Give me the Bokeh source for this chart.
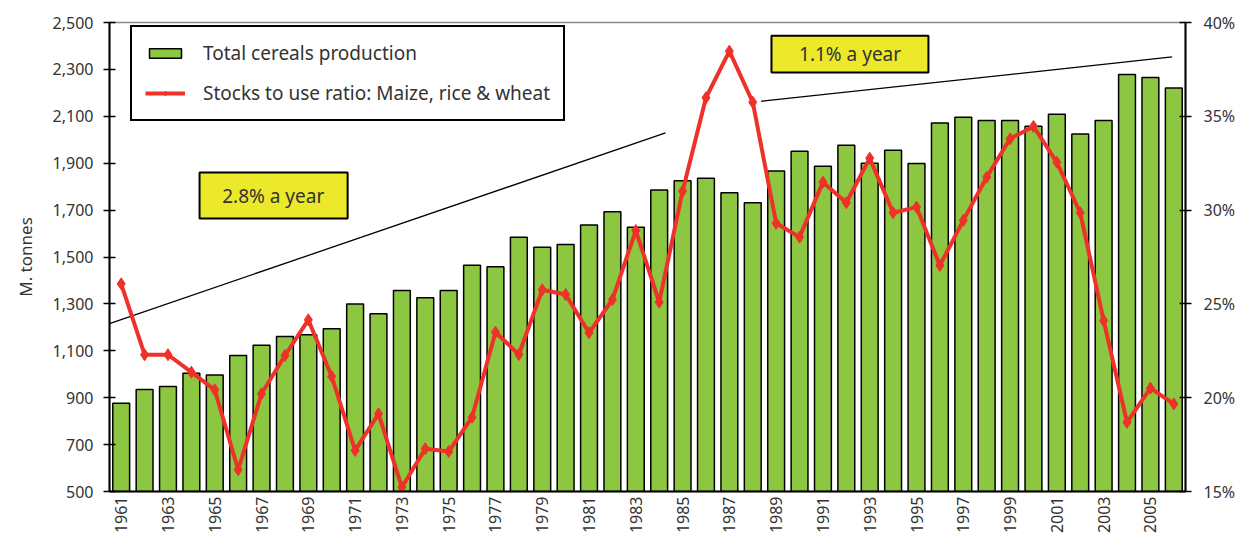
import math
from bokeh.plotting import figure
from bokeh.models import (Range1d, LinearAxis, FixedTicker, NumeralTickFormatter,
                          PrintfTickFormatter, Legend, LegendItem, BoxAnnotation, Label)
from bokeh.embed import file_html
from bokeh.resources import INLINE

# ---------------- data ----------------
years = list(range(1961, 2007))
production = [876, 935, 948, 1004, 997, 1080, 1124, 1161, 1168, 1194,
              1300, 1258, 1357, 1326, 1357, 1465, 1458, 1584, 1542, 1553,
              1636, 1693, 1627, 1786, 1825, 1836, 1774, 1731, 1867, 1951,
              1887, 1977, 1900, 1955, 1899, 2071, 2096, 2082, 2082, 2058,
              2109, 2025, 2082, 2278, 2265, 2221]
stocks_ratio = [26.07, 22.29, 22.29, 21.36, 20.42, 16.16, 20.21, 22.25, 24.15, 21.13,
                17.19, 19.14, 15.23, 17.28, 17.13, 18.96, 23.49, 22.30, 25.75, 25.50,
                23.46, 25.23, 28.91, 25.09, 31.01, 35.99, 38.47, 35.75, 29.30, 28.56,
                31.49, 30.39, 32.77, 29.86, 30.16, 27.05, 29.45, 31.75, 33.80, 34.46,
                32.55, 29.86, 24.11, 18.69, 20.51, 19.67]
x_ticks = list(range(1961, 2007, 2))
left_ticks = [500, 700, 900, 1100, 1300, 1500, 1700, 1900, 2100, 2300, 2500]
right_ticks = [15, 20, 25, 30, 35, 40]
trend_early_x = [1960.5, 1984.27]
trend_early_y = [1216, 2029]
trend_late_x = [1988.36, 2005.93]
trend_late_y = [2164, 2353]
bar_label = "Total cereals production"
line_label = "Stocks to use ratio: Maize, rice & wheat"
note_early = "2.8% a year"
note_late = "1.1% a year"

GREEN = "#8DC641"
RED = "#EE3129"
YELLOW = "#ECE82A"
TEXT = "#333333"
FONT = "Noto Sans"

p = figure(width=1241, height=539, x_range=Range1d(1960.5, 2006.5),
           y_range=Range1d(500, 2500), output_backend="svg", toolbar_location=None,
           min_border_left=109, min_border_right=56, min_border_top=22,
           min_border_bottom=48)
p.xgrid.visible = False
p.ygrid.visible = False
p.outline_line_color = "#8c8c8c"
p.outline_line_width = 1.5
p.background_fill_color = "white"

p.extra_y_ranges = {"pct": Range1d(15, 40)}

# left axis
ly = p.yaxis[0]
ly.ticker = FixedTicker(ticks=left_ticks)
ly.formatter = NumeralTickFormatter(format="0,0")
ly.axis_label = "M. tonnes"
ly.axis_label_text_font = FONT
ly.axis_label_text_font_style = "normal"
ly.axis_label_text_font_size = "17px"
ly.axis_label_text_color = TEXT
ly.axis_label_standoff = 13
ly.major_label_text_font = FONT
ly.major_label_text_font_size = "16px"
ly.major_label_text_color = TEXT
ly.major_label_standoff = 10
ly.major_tick_in = 6
ly.major_tick_out = 6
ly.major_tick_line_width = 1.5
ly.minor_tick_line_color = None
ly.axis_line_width = 2

# right axis
ry = LinearAxis(y_range_name="pct", ticker=FixedTicker(ticks=right_ticks),
                formatter=PrintfTickFormatter(format="%d%%"))
ry.major_label_text_font = FONT
ry.major_label_text_font_size = "16px"
ry.major_label_text_color = TEXT
ry.major_label_standoff = 12
ry.major_tick_in = 6
ry.major_tick_out = 6
ry.major_tick_line_width = 1.5
ry.minor_tick_line_color = None
ry.axis_line_width = 2
p.add_layout(ry, "right")

# bottom axis
bx = p.xaxis[0]
bx.ticker = FixedTicker(ticks=x_ticks)
bx.major_label_orientation = math.pi / 2
bx.major_label_text_font = FONT
bx.major_label_text_font_size = "16px"
bx.major_label_text_color = TEXT
bx.major_label_standoff = 5
bx.major_tick_in = 0
bx.major_tick_out = 0
bx.minor_tick_line_color = None
bx.axis_line_width = 2

# bars
bars = p.vbar(x=years, top=production, bottom=500, width=0.72,
              fill_color=GREEN, line_color="black", line_width=1.5)

# trend lines
p.line(trend_early_x, trend_early_y, line_color="black", line_width=1.3)
p.line(trend_late_x, trend_late_y, line_color="black", line_width=1.3)

# ratio line
ratio_line = p.line(years, stocks_ratio, y_range_name="pct", line_color=RED, line_width=4)
ratio_pts = p.scatter(years, stocks_ratio, y_range_name="pct", marker="diamond", size=12,
                      fill_color=RED, line_color=RED)

# annotation boxes
p.add_layout(BoxAnnotation(left=1964.35, right=1970.68, bottom=1664, top=1860,
                           fill_color=YELLOW, fill_alpha=1, line_color="black",
                           line_width=2, line_alpha=1, level="overlay"))
p.add_layout(BoxAnnotation(left=1988.80, right=1995.51, bottom=2287, top=2444,
                           fill_color=YELLOW, fill_alpha=1, line_color="black",
                           line_width=2, line_alpha=1, level="overlay"))
p.add_layout(Label(x=1967.5, y=1762, text=note_early, text_align="center",
                   text_baseline="middle", text_font=FONT, text_font_size="19px",
                   text_color=TEXT, level="overlay"))
p.add_layout(Label(x=1992.16, y=2365, text=note_late, text_align="center",
                   text_baseline="middle", text_font=FONT, text_font_size="19px",
                   text_color=TEXT, level="overlay"))

legend = Legend(items=[LegendItem(label=bar_label, renderers=[bars]),
                       LegendItem(label=line_label, renderers=[ratio_line, ratio_pts])],
                location=(21, 370))
legend.border_line_color = "black"
legend.border_line_width = 2
legend.border_line_alpha = 1
legend.background_fill_alpha = 1
legend.label_text_font = FONT
legend.label_text_font_size = "19px"
legend.label_text_color = TEXT
legend.glyph_width = 40
legend.glyph_height = 12
legend.label_standoff = 18
legend.label_height = 20
legend.padding = 13
legend.spacing = 14
legend.margin = 0
p.add_layout(legend)

open("out.html", "w").write(file_html(p, INLINE))
